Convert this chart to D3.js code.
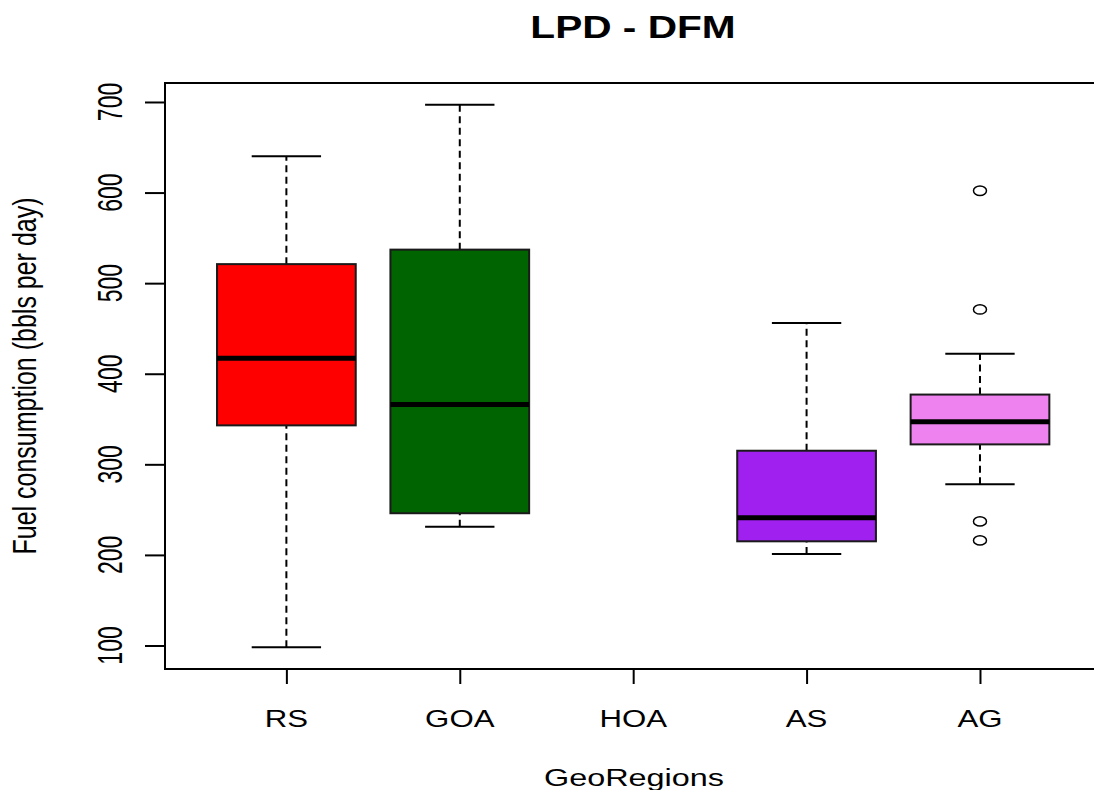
<!DOCTYPE html>
<html>
<head>
<meta charset="utf-8">
<script src="https://cdn.jsdelivr.net/npm/d3@7"></script>
<style>
    html, body { margin: 0; background: #fff; overflow: hidden; }
    svg { display: block; }
    text { font-family: 'Liberation Sans', Arial, sans-serif; fill: #000; }
</style>
</head>
<body>
<svg id="chart"></svg>
<script>
// Boxplot stats (HOA has no data).
const categories = ['RS', 'GOA', 'HOA', 'AS', 'AG'];
const lowWhisker = [98, 231, null, 201, 278];
const q1 = [343, 246, null, 215, 322];
const median = [417, 366, null, 241, 347];
const q3 = [521, 537, null, 315, 377];
const highWhisker = [640, 697, null, 456, 422];
const outliers = [[], [], [], [], [602, 471, 237, 216]];
const fills = ['#FF0000', '#006400', null, '#A020F0', '#EE82EE'];
const yTicks = [100, 200, 300, 400, 500, 600, 700];

const width = 1094;
const height = 790;
const plot = { left: 165, top: 83, bottom: 669, unit: 173.4 };

const svg = d3.select('#chart').attr('width', width).attr('height', height);

const boxes = categories.map((name, i) => ({
    name,
    pos: i + 1,
    lo: lowWhisker[i],
    q1: q1[i],
    med: median[i],
    q3: q3[i],
    hi: highWhisker[i],
    out: outliers[i],
    fill: fills[i],
}));
const stats = boxes.filter(d => d.med !== null);

// R style axis range: data extent padded by 4%.
const allValues = stats.flatMap(d => [d.lo, d.hi, ...d.out]);
const [vmin, vmax] = d3.extent(allValues);
const pad = (vmax - vmin) * 0.04;

const y = d3.scaleLinear().domain([vmin - pad, vmax + pad]).range([plot.bottom, plot.top]);
const x = d3
    .scaleLinear()
    .domain([0.3, categories.length + 0.7])
    .range([plot.left, plot.left + (categories.length + 0.4) * plot.unit]);

// boxwex 0.8, staples half as wide.
const boxW = x(1.8) - x(1);
const capW = boxW / 2;

// Plot frame: the right side is cut off by the picture edge.
svg.append('path')
    .attr('d', `M${width},${plot.top}H${plot.left}V${plot.bottom}H${width}`)
    .attr('fill', 'none')
    .attr('stroke', '#000')
    .attr('stroke-width', 2);

// Y axis.
const yAxis = svg.append('g')
    .attr('transform', `translate(${plot.left}, 0)`)
    .call(d3.axisLeft(y).tickValues(yTicks).tickSize(20).tickFormat(''));
yAxis.select('.domain').attr('stroke-width', 2).attr('d', `M0,${y(yTicks[0])}V${y(yTicks[yTicks.length - 1])}`);
yAxis.selectAll('.tick line').attr('stroke-width', 2);

svg.append('g')
    .selectAll('text')
    .data(yTicks)
    .enter()
    .append('text')
    .attr('transform', d => `translate(122, ${y(d)}) rotate(-90) scale(1, 1.5)`)
    .attr('text-anchor', 'middle')
    .attr('font-size', '23px')
    .text(d => d);

// X axis.
const xAxis = svg.append('g')
    .attr('transform', `translate(0, ${plot.bottom})`)
    .call(d3.axisBottom(x).tickValues(boxes.map(d => d.pos)).tickSize(15).tickFormat(''));
xAxis.select('.domain').attr('stroke-width', 2).attr('d', `M${x(1)},0H${x(categories.length)}`);
xAxis.selectAll('.tick line').attr('stroke-width', 2);

svg.append('g')
    .selectAll('text')
    .data(boxes)
    .enter()
    .append('text')
    .attr('transform', d => `translate(${x(d.pos)}, 727) scale(1.3, 1)`)
    .attr('text-anchor', 'middle')
    .attr('font-size', '24px')
    .text(d => d.name);

// Boxes.
const g = svg.append('g')
    .selectAll('g')
    .data(stats)
    .enter()
    .append('g');

// Whiskers.
g.selectAll('.whisker')
    .data(d => [[d, d.lo, d.q1], [d, d.q3, d.hi]])
    .enter()
    .append('line')
    .attr('x1', ([d]) => x(d.pos))
    .attr('x2', ([d]) => x(d.pos))
    .attr('y1', ([, a]) => y(a))
    .attr('y2', ([, , b]) => y(b))
    .attr('stroke', '#000')
    .attr('stroke-width', 2)
    .attr('stroke-dasharray', '7,4.5');

g.selectAll('.cap')
    .data(d => [[d, d.lo], [d, d.hi]])
    .enter()
    .append('line')
    .attr('x1', ([d]) => x(d.pos) - capW / 2)
    .attr('x2', ([d]) => x(d.pos) + capW / 2)
    .attr('y1', ([, v]) => y(v))
    .attr('y2', ([, v]) => y(v))
    .attr('stroke', '#000')
    .attr('stroke-width', 2);

g.append('rect')
    .attr('x', d => x(d.pos) - boxW / 2)
    .attr('y', d => y(d.q3))
    .attr('width', boxW)
    .attr('height', d => y(d.q1) - y(d.q3))
    .attr('fill', d => d.fill)
    .attr('stroke', '#1a1a1a')
    .attr('stroke-width', 2);

g.append('line')
    .attr('x1', d => x(d.pos) - boxW / 2)
    .attr('x2', d => x(d.pos) + boxW / 2)
    .attr('y1', d => y(d.med))
    .attr('y2', d => y(d.med))
    .attr('stroke', '#000')
    .attr('stroke-width', 5);

g.selectAll('ellipse')
    .data(d => d.out.map(v => [d, v]))
    .enter()
    .append('ellipse')
    .attr('cx', ([d]) => x(d.pos))
    .attr('cy', ([, v]) => y(v))
    .attr('rx', 6.5)
    .attr('ry', 4.7)
    .attr('fill', 'none')
    .attr('stroke', '#000')
    .attr('stroke-width', 1.5);

// Titles.
svg.append('text')
    .attr('transform', `translate(633, 38) scale(1.27, 1)`)
    .attr('text-anchor', 'middle')
    .attr('font-size', '32px')
    .attr('font-weight', 'bold')
    .text('LPD - DFM');

svg.append('text')
    .attr('transform', `translate(634, 786) scale(1.35, 1)`)
    .attr('text-anchor', 'middle')
    .attr('font-size', '24px')
    .text('GeoRegions');

svg.append('text')
    .attr('transform', `translate(36, ${(plot.top + plot.bottom) / 2}) rotate(-90) scale(1, 1.3)`)
    .attr('text-anchor', 'middle')
    .attr('font-size', '25px')
    .text('Fuel consumption (bbls per day)');
</script>
</body>
</html>
